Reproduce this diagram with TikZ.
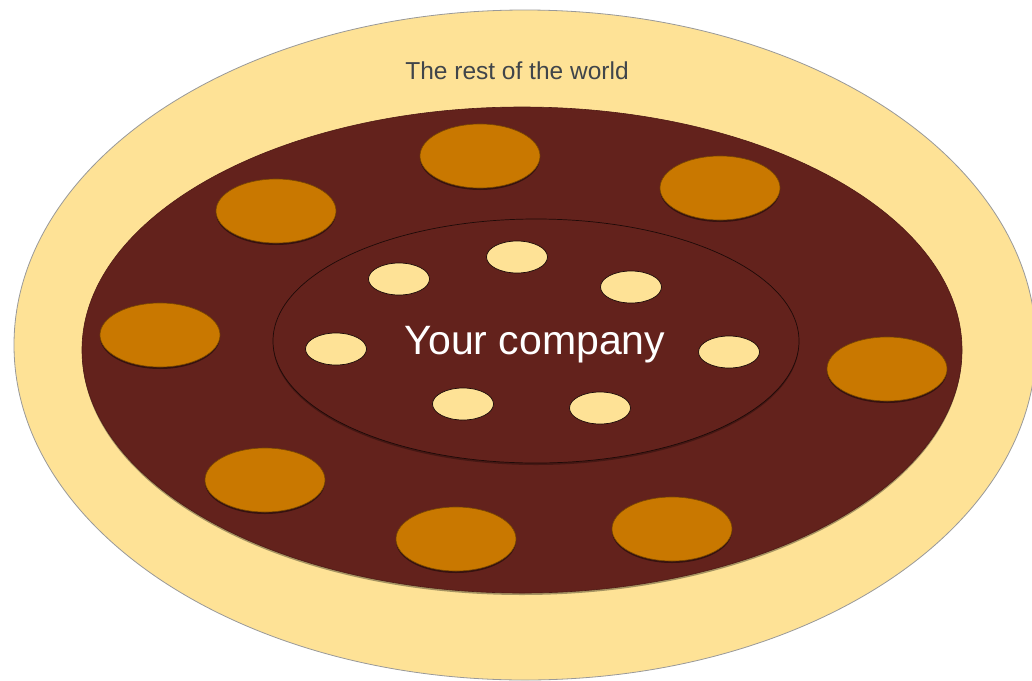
\documentclass[tikz,border=0pt]{standalone}
\usepackage{fontspec}
\setmainfont{Liberation Sans}
\usetikzlibrary{shapes.geometric,shadows}
\definecolor{cream}{HTML}{FEE296}
\definecolor{maroon}{HTML}{63221C}
\definecolor{amber}{HTML}{C97800}
\definecolor{txtgray}{HTML}{40454A}
\tikzset{
  ell/.style={ellipse, inner sep=0pt, outer sep=0pt},
  outerring/.style={ell, fill=cream, draw=gray!80, line width=0.8pt,
    minimum width=1022pt, minimum height=670pt},
  midring/.style={ell, fill=maroon, draw=maroon!80!black, line width=0.6pt,
    drop shadow={shadow xshift=0pt, shadow yshift=-2pt, opacity=0.35, fill=black},
    minimum width=880pt, minimum height=486pt},
  innerring/.style={ell, fill=maroon, draw=black!70!maroon, line width=0.7pt,
    drop shadow={shadow xshift=0pt, shadow yshift=-2pt, opacity=0.3, fill=black},
    minimum width=526pt, minimum height=244pt},
  bigdot/.style={ell, fill=amber, draw=black!40!amber, line width=0.6pt,
    drop shadow={shadow xshift=0pt, shadow yshift=-2pt, opacity=0.45, fill=black},
    minimum width=120pt, minimum height=64pt},
  smalldot/.style={ell, fill=cream, draw=black!75!maroon, line width=0.7pt,
    minimum width=61pt, minimum height=32pt},
}
\begin{document}
\begin{tikzpicture}[x=1pt,y=-1pt]
\useasboundingbox (0,0) rectangle (1032,680);
\clip (0,0) rectangle (1032,680);
\fill[white] (0,0) rectangle (1032,680);
\node[outerring] (world) at (525,345) {};
\node[font=\fontsize{24.5}{28}\selectfont, text=txtgray] (worldlbl) at (517,71) {The rest of the world};
\node[midring] (partners) at (522,350) {};
\node[bigdot] (p1) at (480,156) {};
\node[bigdot] (p2) at (720,188) {};
\node[bigdot] (p3) at (276,211) {};
\node[bigdot] (p4) at (160,335) {};
\node[bigdot] (p5) at (887,369) {};
\node[bigdot] (p6) at (265,480) {};
\node[bigdot] (p7) at (456,539) {};
\node[bigdot] (p8) at (672,529) {};
\node[innerring] (company) at (536,341) {};
\node[smalldot] (c1) at (517,257) {};
\node[smalldot] (c2) at (399,279) {};
\node[smalldot] (c3) at (631,287) {};
\node[smalldot] (c4) at (336,349) {};
\node[smalldot] (c5) at (729,352) {};
\node[smalldot] (c6) at (463,404) {};
\node[smalldot] (c7) at (600,408) {};
\node[font=\fontsize{41}{46}\selectfont, text=white] (companylbl) at (535,345) {Your company};
\end{tikzpicture}
\end{document}
